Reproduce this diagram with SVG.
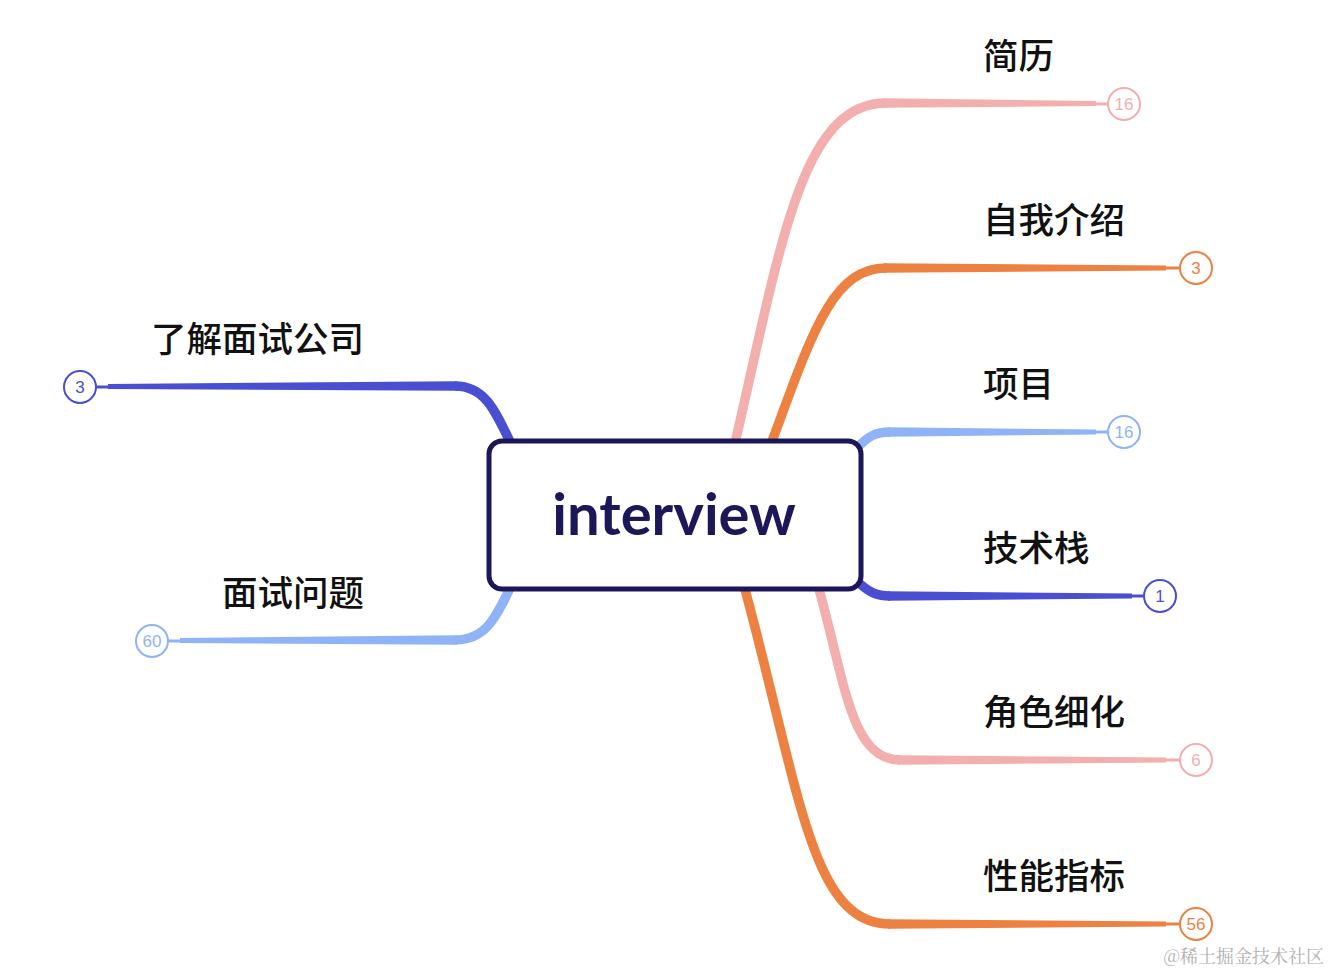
<svg xmlns="http://www.w3.org/2000/svg" width="1330" height="974" viewBox="0 0 1330 974">
<style>
.lbl{font-family:"Noto Sans CJK SC","Noto Sans",sans-serif;font-size:35.5px;fill:#111;font-weight:500}
.num{font-family:"Liberation Sans","Noto Sans",sans-serif;font-size:17px;text-anchor:middle;font-weight:300}
.c{fill:#fff;stroke-width:2}
.curve{fill:none;stroke-linecap:butt;stroke-width:9.5}
.tip{fill:none;stroke-width:3}
.pink{stroke:#f2afae}.orange{stroke:#ec8141}.lblue{stroke:#8fb3f6}.blue{stroke:#4a4fd1}
.fpink{fill:#f2afae}.forange{fill:#ec8141}.flblue{fill:#8fb3f6}.fblue{fill:#4a4fd1}
</style>
<g id="connectors">
<path class="curve pink" d="M733 452 C780 250 800 103 886 103"/>
<polygon class="fpink" points="884,98.3 1096,101 1096,106 884,107.7"/><path class="tip pink" d="M1094 104 L1108 104"/>
<path class="curve orange" d="M768 452 C810 340 830 268 886 268"/>
<polygon class="forange" points="884,263.3 1166,265.5 1166,270.5 884,272.7"/><path class="tip orange" d="M1164 268 L1180 268"/>
<path class="curve lblue" d="M856 449 C868 436 876 432 890 432"/>
<polygon class="flblue" points="888,427.3 1096,429.5 1096,434.5 888,436.7"/><path class="tip lblue" d="M1094 432 L1108 432"/>
<path class="curve blue" d="M856 580 C868 592 876 596 890 596"/>
<polygon class="fblue" points="888,591.3 1132,593.5 1132,598.5 888,600.7"/><path class="tip blue" d="M1130 596 L1144 596"/>
<path class="curve pink" d="M817 582 C845 680 850 760 900 760"/>
<polygon class="fpink" points="898,755.3 1166,757.5 1166,762.5 898,764.7"/><path class="tip pink" d="M1164 760 L1180 760"/>
<path class="curve orange" d="M743 582 C800 790 810 924 890 924"/>
<polygon class="forange" points="888,919.3 1166,921.5 1166,926.5 888,928.7"/><path class="tip orange" d="M1164 924 L1180 924"/>
<path class="curve blue" d="M513 448 C495 410 485 386 455 386"/>
<polygon class="fblue" points="457,381.3 108,384 108,389 457,390.7"/><path class="tip blue" d="M110 387 L96 387"/>
<polygon class="flblue" points="457,635.3 180,638 180,643 457,644.7"/><path class="tip lblue" d="M182 641 L168 641"/>
<path class="curve lblue" d="M513 582 C495 620 485 640 455 640"/>
</g>
<g id="center">
<rect x="489" y="441" width="372" height="148" rx="13" fill="#fff" stroke="#1c1858" stroke-width="5"/>
<text x="674" y="535" text-anchor="middle" font-family="Lato,'Noto Sans',sans-serif" font-weight="700" font-size="58" fill="#1c1858">interview</text>
</g>
<g id="n-jianli"><text class="lbl" x="983" y="69">简历</text><circle class="c pink" cx="1124" cy="104" r="16"/><text class="num" x="1124" y="110" fill="#f2afae">16</text></g>
<g id="n-ziwo"><text class="lbl" x="983" y="233">自我介绍</text><circle class="c orange" cx="1196" cy="268" r="16"/><text class="num" x="1196" y="274" fill="#ec8141">3</text></g>
<g id="n-xiangmu"><text class="lbl" x="983" y="397">项目</text><circle class="c lblue" cx="1124" cy="432" r="16"/><text class="num" x="1124" y="438" fill="#8fb3f6">16</text></g>
<g id="n-jishu"><text class="lbl" x="983" y="561">技术栈</text><circle class="c blue" cx="1160" cy="596" r="16"/><text class="num" x="1160" y="602" fill="#4a4fd1">1</text></g>
<g id="n-juese"><text class="lbl" x="983" y="725">角色细化</text><circle class="c pink" cx="1196" cy="760" r="16"/><text class="num" x="1196" y="766" fill="#f2afae">6</text></g>
<g id="n-xingneng"><text class="lbl" x="983" y="889">性能指标</text><circle class="c orange" cx="1196" cy="924" r="16"/><text class="num" x="1196" y="930" fill="#ec8141">56</text></g>
<g id="n-liaojie"><text class="lbl" x="364" y="352" text-anchor="end">了解面试公司</text><circle class="c blue" cx="80" cy="387" r="16"/><text class="num" x="80" y="393" fill="#4a4fd1">3</text></g>
<g id="n-mianshi"><text class="lbl" x="364" y="606" text-anchor="end">面试问题</text><circle class="c lblue" cx="152" cy="641" r="16"/><text class="num" x="152" y="647" fill="#8fb3f6">60</text></g>
<text x="1324" y="963" text-anchor="end" font-family="'Noto Serif CJK SC','Noto Sans CJK SC',serif" font-size="18" fill="#b0b0b0">@稀土掘金技术社区</text>
</svg>
